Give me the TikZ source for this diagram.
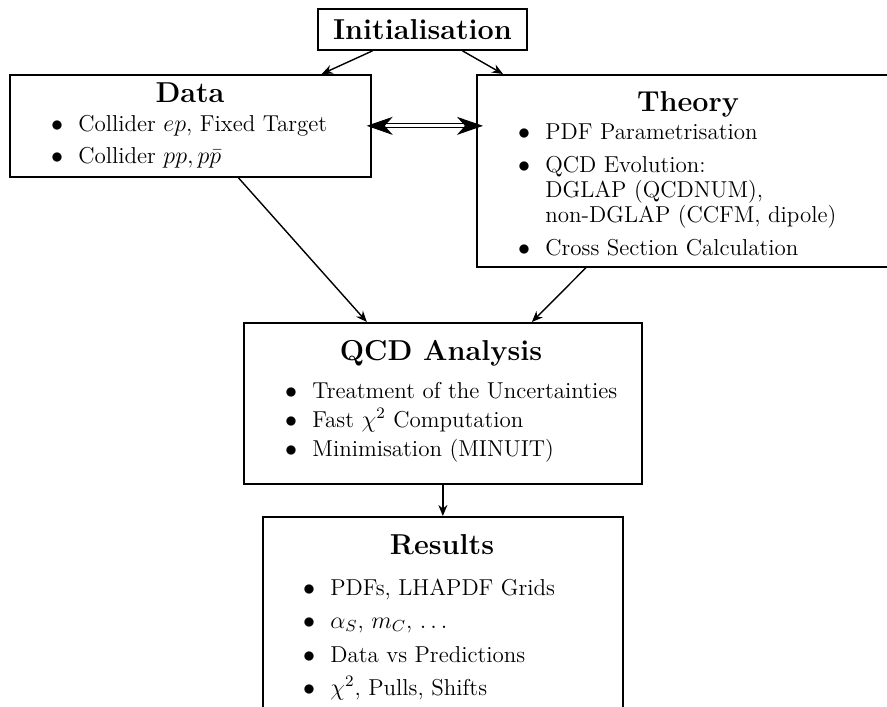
\documentclass[tikz,border=0pt]{standalone}
\usetikzlibrary{arrows.meta}
\newcommand\bulletline[4]{\node[itm] (#1) at (#2,#3) {\llap{$\bullet$\hspace{7.7pt}}#4};}
\newcommand\plainline[4]{\node[itm] (#1) at (#2,#3) {#4};}
\begin{document}
\begin{tikzpicture}[x=0.5pt,y=-0.5pt,
  box/.style={draw, line width=0.85pt, inner sep=0pt, anchor=north west},
  ttl/.style={anchor=base, inner sep=0pt, font=\Large\bfseries},
  itm/.style={anchor=base west, inner sep=0pt, font=\fontsize{11.5}{14}\selectfont},
  arr/.style={-{Stealth[length=5.5pt,width=4.5pt]}, line width=0.7pt},
  dbl/.style={{Stealth[length=13pt,width=9pt,inset=4pt]}-{Stealth[length=13pt,width=9pt,inset=4pt]},
    double, double distance=1.5pt, line width=0.5pt, shorten <=-2.5pt, shorten >=-3.5pt}]
\useasboundingbox (0,0) rectangle (887,706);

% boxes
\node[draw, line width=0.85pt, inner sep=0pt, minimum width=104.5pt, minimum height=20.5pt,
  font=\Large\bfseries] (init) at (422.5,29.5) {Initialisation};
\node[box, minimum width=180.5pt, minimum height=51pt] (data) at (9,74) {};
\node[box, minimum width=212pt, minimum height=96pt] (theory) at (476,74) {};
\node[box, minimum width=199pt, minimum height=80.5pt] (qcd) at (243,322) {};
\node[box, minimum width=180pt, minimum height=107pt] (results) at (262,516) {};

% Data
\node[ttl] (datat) at (190,103) {Data};
\bulletline{d1}{78}{131}{Collider $ep$, Fixed Target}
\bulletline{d2}{78}{163}{Collider $pp, p\bar{p}$}

% Theory
\node[ttl] (theoryt) at (688,112) {Theory};
\bulletline{t1}{545}{139}{PDF Parametrisation}
\bulletline{t2}{545}{172}{QCD Evolution:}
\plainline{t3}{545}{197}{DGLAP (QCDNUM),}
\plainline{t4}{545}{222}{non-DGLAP (CCFM, dipole)}
\bulletline{t5}{545}{255}{Cross Section Calculation}

% QCD Analysis
\node[ttl] (qcdt) at (441,360) {QCD Analysis};
\bulletline{q1}{312}{398}{Treatment of the Uncertainties}
\bulletline{q2}{312}{427}{Fast $\chi^2$ Computation}
\bulletline{q3}{312}{456}{Minimisation (MINUIT)}

% Results
\node[ttl] (resultst) at (442,554) {Results};
\bulletline{r1}{330}{595}{PDFs, LHAPDF Grids}
\bulletline{r2}{330}{628}{$\alpha_S$, $m_C$, $\ldots$}
\bulletline{r3}{330}{662}{Data vs Predictions}
\bulletline{r4}{330}{695}{$\chi^2$, Pulls, Shifts}

% connectors
\draw[arr] ([xshift=-25pt]init.south) -- ([xshift=-25pt]data.north east);
\draw[arr] ([xshift=20pt]init.south) -- ([xshift=13.5pt]theory.north west);
\draw[dbl] (data.east) -- (data.east -| theory.west);
\draw[arr] ([xshift=24pt]data.south) -- ([xshift=-38pt]qcd.north);
\draw[arr] ([xshift=55pt]theory.south west) -- ([xshift=44.5pt]qcd.north);
\draw[arr] (qcd.south) -- (results.north);
\end{tikzpicture}
\end{document}
